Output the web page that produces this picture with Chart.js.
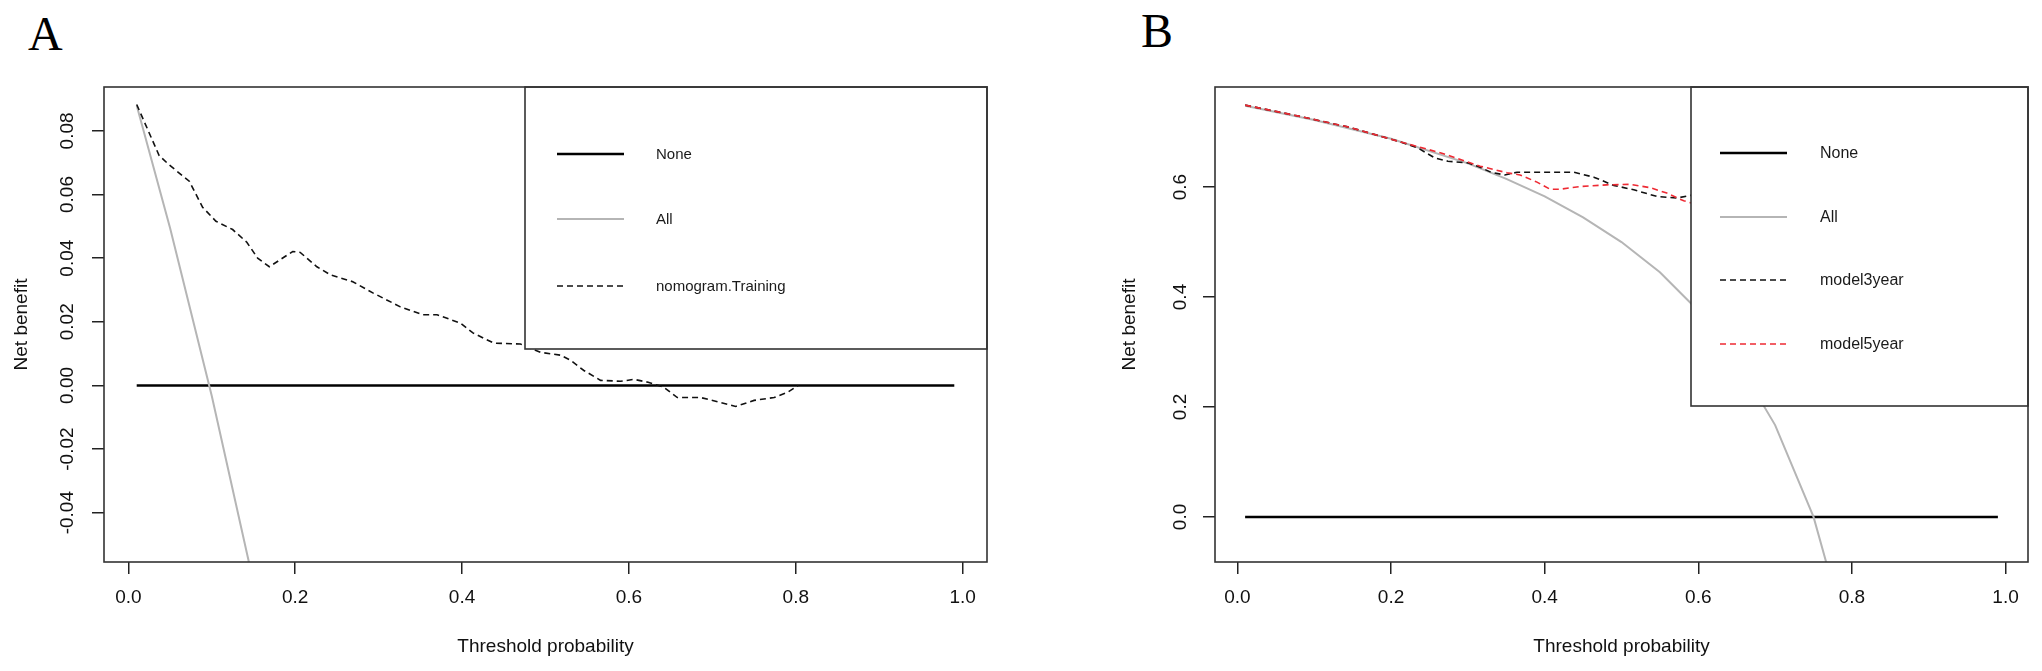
<!DOCTYPE html>
<html>
<head>
<meta charset="utf-8">
<script src="https://cdn.jsdelivr.net/npm/chart.js@4.4.1/dist/chart.umd.min.js"></script>
<style>
  body { margin: 0; background: #fff; width: 2042px; height: 671px; overflow: hidden; position: relative; }
  .panel { position: absolute; top: 0; width: 1021px; height: 671px; }
  #wrapA { left: 0; }
  #wrapB { left: 1021px; }
  .tag { position: absolute; font-family: "Liberation Serif", "Times New Roman", serif; font-size: 48px; line-height: 48px; color: #000; }
</style>
</head>
<body>
<div class="tag" style="left:28px;top:10px">A</div>
<div class="tag" style="left:1141px;top:7px">B</div>
<div class="panel" id="wrapA"><canvas id="chartA" width="1021" height="671"></canvas></div>
<div class="panel" id="wrapB"><canvas id="chartB" width="1021" height="671"></canvas></div>
<script>
// ---- data, panel A (training set) ----
const aTicksX = [0, 0.2, 0.4, 0.6, 0.8, 1.0];
const aTicksY = [-0.04, -0.02, 0, 0.02, 0.04, 0.06, 0.08];
const aNoneX = [0.01, 0.99];
const aNoneY = [0, 0];
const aAllX = [0.01, 0.05, 0.10, 0.15, 0.20];
const aAllY = [0.088, 0.0495, -0.0033, -0.062, -0.129];
const aNomoX = [0.01, 0.037, 0.049, 0.073, 0.089, 0.105, 0.125, 0.142, 0.155, 0.169,
  0.197, 0.206, 0.226, 0.242, 0.269, 0.293, 0.326, 0.353, 0.370, 0.398,
  0.413, 0.438, 0.470, 0.494, 0.518, 0.530, 0.546, 0.566, 0.590, 0.606,
  0.623, 0.642, 0.658, 0.686, 0.710, 0.728, 0.750, 0.774, 0.790, 0.803];
const aNomoY = [0.0883, 0.0722, 0.0693, 0.0642, 0.0560, 0.0516, 0.0490, 0.0450, 0.0400, 0.0373,
  0.0421, 0.0418, 0.0373, 0.0348, 0.0326, 0.0291, 0.0247, 0.0222, 0.0222, 0.0196,
  0.0165, 0.0133, 0.0130, 0.0104, 0.0095, 0.0079, 0.0047, 0.0016, 0.0013, 0.0019,
  0.0010, -0.0006, -0.0038, -0.0038, -0.0054, -0.0066, -0.0047, -0.0038, -0.0022, 0.0];

// ---- data, panel B (3 and 5 year models) ----
const bTicksX = [0, 0.2, 0.4, 0.6, 0.8, 1.0];
const bTicksY = [0, 0.2, 0.4, 0.6];
const bNoneX = [0.01, 0.99];
const bNoneY = [0, 0];
const bAllX = [0.01, 0.10, 0.20, 0.30, 0.35, 0.40, 0.45, 0.50, 0.55, 0.60, 0.65, 0.70, 0.75, 0.80];
const bAllY = [0.748, 0.722, 0.688, 0.643, 0.615, 0.583, 0.545, 0.500, 0.445, 0.375, 0.285, 0.167, 0.0, -0.25];
const b3yX = [0.01, 0.08, 0.145, 0.21, 0.235, 0.257, 0.274, 0.300, 0.316, 0.330, 0.348, 0.364,
  0.394, 0.438, 0.464, 0.490, 0.516, 0.546, 0.572, 0.590, 0.620];
const b3yY = [0.749, 0.729, 0.709, 0.683, 0.671, 0.653, 0.647, 0.644, 0.636, 0.627, 0.622, 0.627,
  0.627, 0.627, 0.618, 0.603, 0.595, 0.583, 0.580, 0.585, 0.575];
const b5yX = [0.01, 0.08, 0.145, 0.21, 0.265, 0.316, 0.351, 0.368, 0.390, 0.407, 0.420, 0.446,
  0.481, 0.511, 0.537, 0.559, 0.581, 0.620];
const b5yY = [0.749, 0.729, 0.709, 0.683, 0.662, 0.638, 0.626, 0.622, 0.609, 0.596, 0.596, 0.601,
  0.604, 0.605, 0.599, 0.589, 0.575, 0.560];

const FONT = '"Liberation Sans", Arial, Helvetica, sans-serif';
const INK = '#111';

function pts(xs, ys) {
  return xs.map((x, i) => ({ x: x, y: ys[i] }));
}

// R style box around the plot region + legend with white background (topright)
const rBox = {
  id: 'rbox',
  afterDatasetsDraw(chart, args, opts) {
    const ctx = chart.ctx;
    const a = chart.chartArea;
    const lg = opts.legend;
    const lx = a.right - lg.width, ly = a.top;
    ctx.save();
    ctx.fillStyle = '#fff';
    ctx.fillRect(lx, ly, lg.width, lg.height);
    ctx.strokeStyle = '#333';
    ctx.lineWidth = 1.6;
    ctx.strokeRect(lx, ly, lg.width, lg.height);
    ctx.font = lg.fontSize + 'px ' + FONT;
    ctx.textBaseline = 'middle';
    ctx.textAlign = 'left';
    chart.data.datasets.forEach((ds, i) => {
      const y = ly + lg.rows[i];
      ctx.beginPath();
      ctx.strokeStyle = ds.borderColor;
      ctx.lineWidth = ds.borderWidth;
      ctx.setLineDash(ds.borderDash || []);
      ctx.moveTo(lx + lg.sample[0], y);
      ctx.lineTo(lx + lg.sample[1], y);
      ctx.stroke();
      ctx.setLineDash([]);
      ctx.fillStyle = '#1a1a1a';
      ctx.fillText(ds.label, lx + lg.textX, y + 1);
    });
    ctx.strokeStyle = '#333';
    ctx.lineWidth = 1.6;
    ctx.strokeRect(a.left, a.top, a.width, a.height);
    ctx.restore();
  }
};

function makeChart(id, p) {
  return new Chart(document.getElementById(id), {
    type: 'line',
    data: { datasets: p.datasets },
    options: {
      responsive: false,
      animation: false,
      layout: { padding: p.padding },
      elements: { point: { radius: 0 }, line: { tension: 0 } },
      plugins: {
        legend: { display: false },
        tooltip: { enabled: false },
        rbox: { legend: p.legend }
      },
      scales: {
        x: {
          type: 'linear',
          min: -0.0292,
          max: 1.0292,
          bounds: 'data',
          afterBuildTicks: s => { s.ticks = p.ticksX.map(v => ({ value: v })); },
          afterFit: s => { s.height = 109; },
          ticks: {
            autoSkip: false, maxRotation: 0, padding: 12.6, color: INK,
            font: { family: FONT, size: 19 },
            callback: v => v.toFixed(1)
          },
          grid: { drawOnChartArea: false, drawTicks: true, tickLength: 12, color: '#222', lineWidth: 1.5 },
          border: { display: false },
          title: {
            display: true, text: 'Threshold probability', color: INK,
            font: { family: FONT, size: 19 }, padding: { top: 0, bottom: 12.6 }
          }
        },
        y: {
          type: 'linear',
          min: p.yMin,
          max: p.yMax,
          bounds: 'data',
          afterBuildTicks: s => { s.ticks = p.ticksY.map(v => ({ value: v })); },
          afterFit: s => { s.width = p.yWidth; },
          ticks: {
            autoSkip: false, minRotation: 90, maxRotation: 90, crossAlign: 'center',
            padding: p.yTickPad, color: INK,
            font: { family: FONT, size: 19 },
            callback: v => v.toFixed(p.yDigits)
          },
          grid: { drawOnChartArea: false, drawTicks: true, tickLength: 12, color: '#222', lineWidth: 1.5 },
          border: { display: false },
          title: {
            display: true, text: 'Net benefit', color: INK,
            font: { family: FONT, size: 19 }, padding: { top: p.yTitlePad, bottom: 0 }
          }
        }
      }
    },
    plugins: [rBox]
  });
}

const dashed = [6, 4];

makeChart('chartA', {
  padding: { left: 0, top: 87, right: 34, bottom: 0 },
  yMin: -0.0555, yMax: 0.0938, yWidth: 104, yTickPad: 2.4, yTitlePad: 10.6, yDigits: 2,
  ticksX: aTicksX, ticksY: aTicksY,
  legend: { width: 462, height: 262, rows: [67, 132, 199], sample: [32, 99], textX: 131, fontSize: 15 },
  datasets: [
    { label: 'None', data: pts(aNoneX, aNoneY), borderColor: '#000', borderWidth: 2.5, order: 3, clip: 0 },
    { label: 'All', data: pts(aAllX, aAllY), borderColor: '#b5b5b5', borderWidth: 2, order: 2, clip: 0 },
    { label: 'nomogram.Training', data: pts(aNomoX, aNomoY), borderColor: '#111', borderWidth: 1.6, borderDash: dashed, order: 1, clip: 0 }
  ]
});

makeChart('chartB', {
  padding: { left: 0, top: 87, right: 14, bottom: 0 },
  yMin: -0.082, yMax: 0.782, yWidth: 194, yTickPad: 9.3, yTitlePad: 97.6, yDigits: 1,
  ticksX: bTicksX, ticksY: bTicksY,
  legend: { width: 337, height: 319, rows: [66, 130, 193, 257], sample: [29, 96], textX: 129, fontSize: 16 },
  datasets: [
    { label: 'None', data: pts(bNoneX, bNoneY), borderColor: '#000', borderWidth: 2.5, order: 4, clip: 0 },
    { label: 'All', data: pts(bAllX, bAllY), borderColor: '#b5b5b5', borderWidth: 2, order: 3, clip: 0 },
    { label: 'model3year', data: pts(b3yX, b3yY), borderColor: '#111', borderWidth: 1.6, borderDash: dashed, order: 2, clip: 0 },
    { label: 'model5year', data: pts(b5yX, b5yY), borderColor: '#ee2a33', borderWidth: 1.6, borderDash: dashed, order: 1, clip: 0 }
  ]
});
</script>
</body>
</html>
